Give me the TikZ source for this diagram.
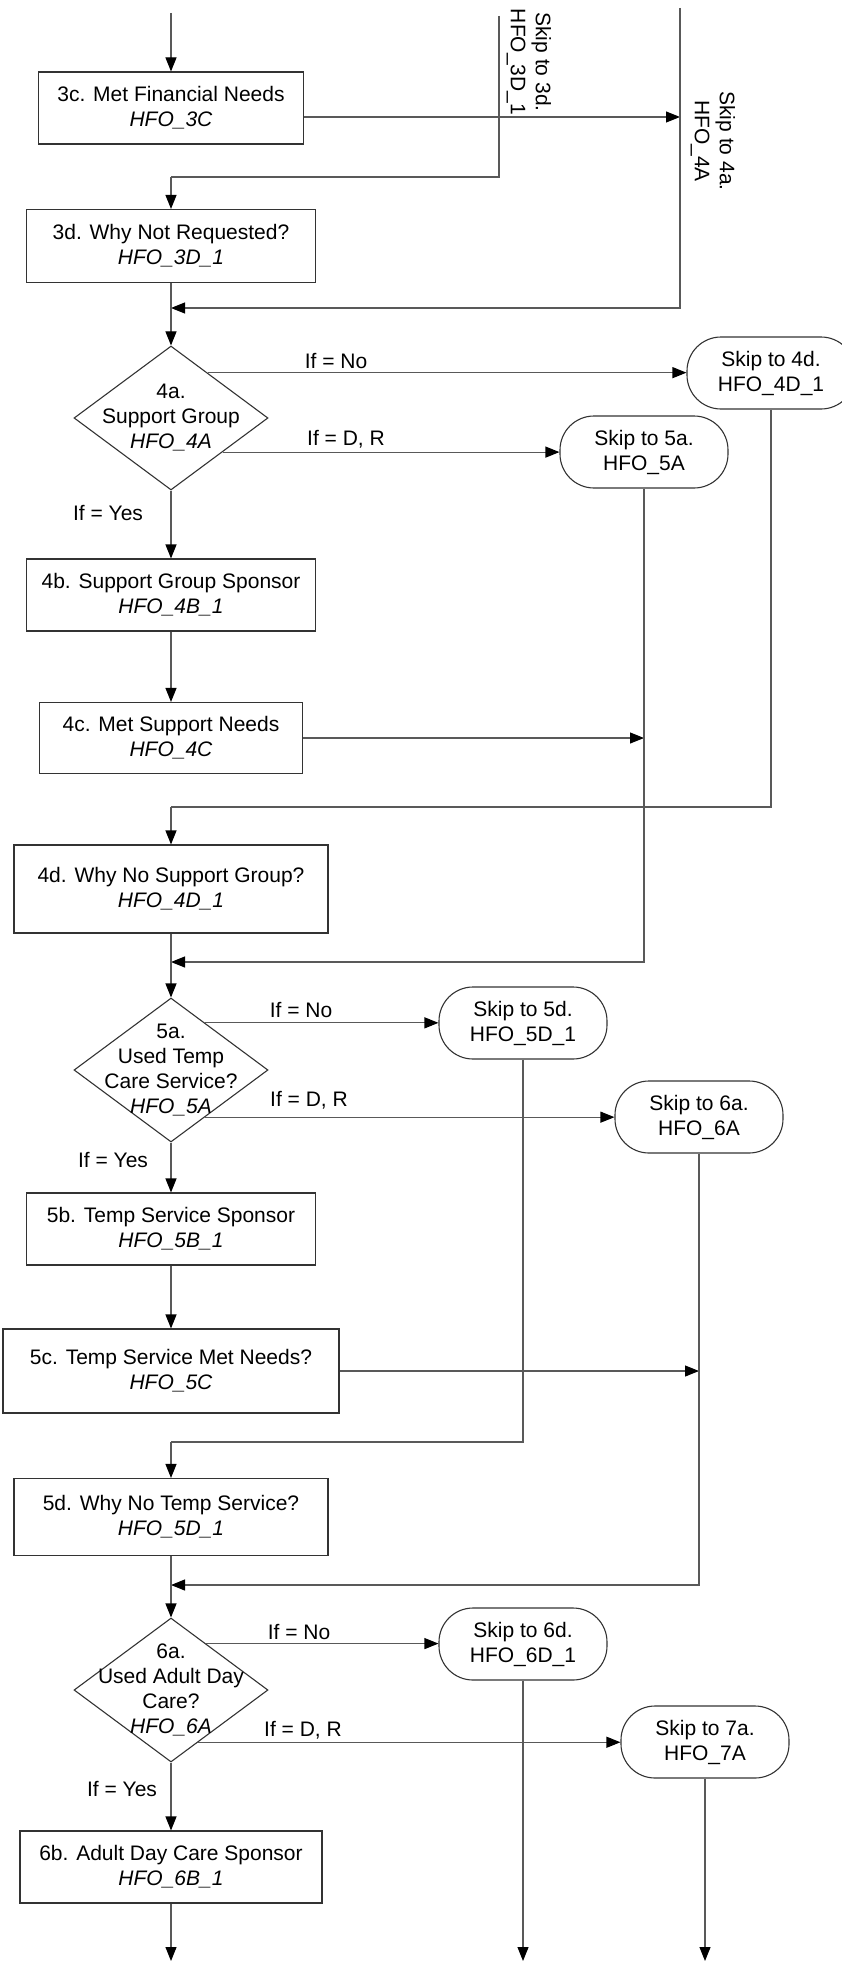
\documentclass[tikz,border=0pt]{standalone}
\usepackage{fontspec}
\setmainfont{Liberation Sans}
\usetikzlibrary{shapes, arrows.meta, positioning, calc}

\tikzset{
  qbox/.style={draw=black!80, line width=1.1pt, align=center, minimum height=72pt, inner sep=0pt},
  qdiam/.style={diamond, draw=black!80, line width=1.1pt, minimum width=194pt, minimum height=144pt, inner sep=0pt},
  skipbox/.style={draw=black!80, line width=1.1pt, rounded corners=34pt, align=center, minimum width=168pt, minimum height=72pt, inner sep=0pt},
  flow/.style={draw=black!65, line width=1.1pt},
  arr/.style={flow, -{Triangle[width=11pt,length=14pt,black]}}
}

\begin{document}
\begin{tikzpicture}[x=1pt, y=-1pt, font=\fontsize{21}{25}\selectfont]
	\useasboundingbox (0,0) rectangle (841,1961);
	\node[qbox, minimum width=265pt] (q3c) at (171,108) {3c. Met Financial Needs\\\textit{HFO\_3C}};
	\node[qbox, minimum width=289pt, minimum height=73pt] (q3d) at (171,246) {3d. Why Not Requested?\\\textit{HFO\_3D\_1}};
	\node[qdiam] (q4a) at (171,418) {};
		\node[align=center] (q4at) at (q4a) {4a.\\Support Group\\\textit{HFO\_4A}};
	\node[skipbox] (s4d) at (771,373) {Skip to 4d.\\HFO\_4D\_1};
	\node[skipbox] (s5a) at (644,452) {Skip to 5a.\\HFO\_5A};
	\node[qbox, minimum width=289pt] (q4b) at (171,595) {4b. Support Group Sponsor\\\textit{HFO\_4B\_1}};
	\node[qbox, minimum width=263pt, minimum height=71pt] (q4c) at (171,738) {4c. Met Support Needs\\\textit{HFO\_4C}};
	\node[qbox, minimum width=314pt, minimum height=88pt] (q4d) at (171,889) {4d. Why No Support Group?\\\textit{HFO\_4D\_1}};
	\node[qdiam] (q5a) at (171,1070) {};
		\node[align=center] (q5at) at (q5a) {5a.\\Used Temp\\Care Service?\\\textit{HFO\_5A}};
	\node[skipbox] (s5d) at (523,1023) {Skip to 5d.\\HFO\_5D\_1};
	\node[skipbox] (s6a) at (699,1117) {Skip to 6a.\\HFO\_6A};
	\node[qbox, minimum width=289pt] (q5b) at (171,1229) {5b. Temp Service Sponsor\\\textit{HFO\_5B\_1}};
	\node[qbox, minimum width=336pt, minimum height=84pt] (q5c) at (171,1371) {5c. Temp Service Met Needs?\\\textit{HFO\_5C}};
	\node[qbox, minimum width=314pt, minimum height=77pt] (q5d) at (171,1517) {5d. Why No Temp Service?\\\textit{HFO\_5D\_1}};
	\node[qdiam] (q6a) at (171,1690) {};
		\node[align=center] (q6at) at (q6a) {6a.\\Used Adult Day\\Care?\\\textit{HFO\_6A}};
	\node[skipbox] (s6d) at (523,1644) {Skip to 6d.\\HFO\_6D\_1};
	\node[skipbox] (s7a) at (705,1742) {Skip to 7a.\\HFO\_7A};
	\node[qbox, minimum width=302pt] (q6b) at (171,1867) {6b. Adult Day Care Sponsor\\\textit{HFO\_6B\_1}};

	\node[rotate=-90, align=center] (l3d) at (529,62) {Skip to 3d.\\HFO\_3D\_1};
	\node[rotate=-90, align=center] (l4a) at (713,141) {Skip to 4a.\\HFO\_4A};

	\node (n4a) at (336,361) {If = No};
	\node (d4a) at (346,439) {If = D, R};
	\node (y4a) at (108,513) {If = Yes};
	\node (n5a) at (301,1010) {If = No};
	\node (d5a) at (309,1100) {If = D, R};
	\node (y5a) at (113,1160) {If = Yes};
	\node (n6a) at (299,1632) {If = No};
	\node (d6a) at (303,1730) {If = D, R};
	\node (y6a) at (122,1789) {If = Yes};

	\coordinate (top) at (171,13);
	\coordinate (in3d) at (499,16);
	\coordinate (in4a) at (680,8);
	\coordinate (t3d) at (171,177);
	\coordinate (j4a) at (171,308);
	\coordinate (t4d) at (171,807);
	\coordinate (j5a) at (171,962);
	\coordinate (t5d) at (171,1442);
	\coordinate (j6a) at (171,1585);
	\coordinate (bot) at (171,1961);

	\draw[arr] (top) -- (q3c);
	\draw[arr] ([yshift=-9pt]q3c.east) -- ([yshift=-9pt]q3c.east -| in4a);
	\draw[flow] (in3d) |- (t3d);
	\draw[arr] (t3d) -- (q3d);
	\draw[arr] (in4a) |- (j4a);
	\draw[arr] (q3d) -- (q4a);

	\draw[arr] ($(q4a.north)!.375!(q4a.east)$) coordinate (o4a) -- (o4a -| s4d.west);
	\draw[arr] ($(q4a.east)!.47!(q4a.south)$) coordinate (r4a) -- (r4a -| s5a.west);
	\draw[arr] (q4a) -- (q4b);
	\draw[arr] (q4b) -- (q4c);
	\draw[arr] (q4c) -- (q4c -| s5a);
	\draw[flow] (s4d) |- (t4d);
	\draw[arr] (t4d) -- (q4d);
	\draw[arr] (s5a) |- (j5a);
	\draw[arr] (q4d) -- (q5a);

	\draw[arr] ($(q5a.north)!.35!(q5a.east)$) coordinate (o5a) -- (o5a -| s5d.west);
	\draw[arr] ($(q5a.east)!.65!(q5a.south)$) coordinate (r5a) -- (r5a -| s6a.west);
	\draw[arr] (q5a) -- (q5b);
	\draw[arr] (q5b) -- (q5c);
	\draw[arr] (q5c) -- (q5c -| s6a);
	\draw[flow] (s5d) |- (t5d);
	\draw[arr] (t5d) -- (q5d);
	\draw[arr] (s6a) |- (j6a);
	\draw[arr] (q5d) -- (q6a);

	\draw[arr] ($(q6a.north)!.36!(q6a.east)$) coordinate (o6a) -- (o6a -| s6d.west);
	\draw[arr] ($(q6a.east)!.72!(q6a.south)$) coordinate (r6a) -- (r6a -| s7a.west);
	\draw[arr] (q6a) -- (q6b);
	\draw[arr] (q6b) -- (bot);
	\draw[arr] (s6d) -- (s6d |- bot);
	\draw[arr] (s7a) -- (s7a |- bot);
\end{tikzpicture}
\end{document}
